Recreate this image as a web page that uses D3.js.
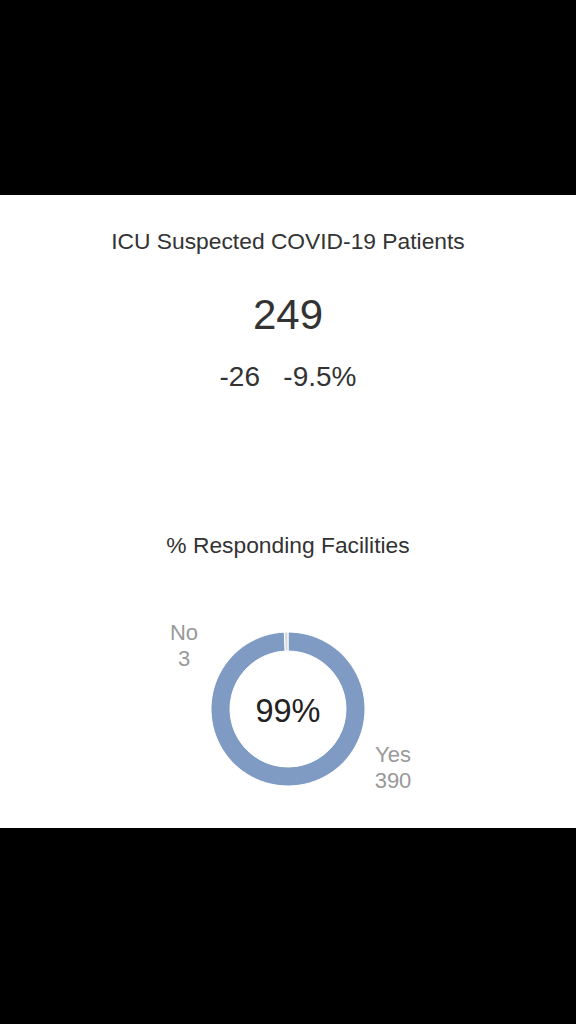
<!DOCTYPE html>
<html>
<head>
<meta charset="utf-8">
<script src="https://cdn.jsdelivr.net/npm/d3@7"></script>
<style>
html,body{margin:0;padding:0;background:#000;}
svg{display:block;}
text{font-family:"Liberation Sans",Arial,Helvetica,sans-serif;}
</style>
</head>
<body>
<script>
const title = "ICU Suspected COVID-19 Patients";
const bigValue = 249;
const changeAbs = -26;
const changePct = "-9.5%";
const donutTitle = "% Responding Facilities";
const categories = ["Yes", "No"];
const values = [390, 3];
const colors = ["#7f9bc4", "#d6d9de"];

const W = 576, H = 1024;
const svg = d3.select("body").append("svg").attr("width", W).attr("height", H);
svg.append("rect").attr("width", W).attr("height", H).attr("fill", "#000");
svg.append("rect").attr("x", 0).attr("y", 195).attr("width", W).attr("height", 633).attr("fill", "#fff");

const cx = 288;
svg.append("text").attr("x", cx).attr("y", 249).attr("text-anchor", "middle")
  .attr("font-size", 22.8).attr("fill", "#333").text(title);
svg.append("text").attr("x", cx).attr("y", 329).attr("text-anchor", "middle")
  .attr("font-size", 42).attr("fill", "#333").text(bigValue);
svg.append("text").attr("x", cx).attr("y", 386).attr("text-anchor", "middle")
  .attr("font-size", 28).attr("fill", "#333")
  .text(changeAbs + "\u00a0\u00a0\u00a0" + changePct);

svg.append("text").attr("x", cx).attr("y", 553).attr("text-anchor", "middle")
  .attr("font-size", 22.8).attr("fill", "#333").text(donutTitle);

const dcx = 288, dcy = 709, rOut = 77, rIn = 58;
const pie = d3.pie().sort(null).value(d => d)
  .startAngle(0).endAngle(2 * Math.PI);
const arcs = pie(values);
const arc = d3.arc().innerRadius(rIn).outerRadius(rOut);
const g = svg.append("g").attr("transform", `translate(${dcx},${dcy})`);
g.selectAll("path").data(arcs).join("path")
  .attr("d", arc)
  .attr("fill", (d, i) => colors[i])
  .attr("stroke", "#fff").attr("stroke-width", 1);

const total = d3.sum(values);
g.append("text").attr("x", 0).attr("y", 13).attr("text-anchor", "middle")
  .attr("font-size", 32.5).attr("fill", "#222")
  .text(Math.floor(values[0] / total * 100) + "%");

// outside labels
const labelPos = [[393, 762], [184, 640]];
categories.forEach((c, i) => {
  const t = svg.append("text").attr("text-anchor", "middle")
    .attr("font-size", 22).attr("fill", "#999");
  t.append("tspan").attr("x", labelPos[i][0]).attr("y", labelPos[i][1]).text(c);
  t.append("tspan").attr("x", labelPos[i][0]).attr("y", labelPos[i][1] + 26).text(values[i]);
});
</script>
</body>
</html>
